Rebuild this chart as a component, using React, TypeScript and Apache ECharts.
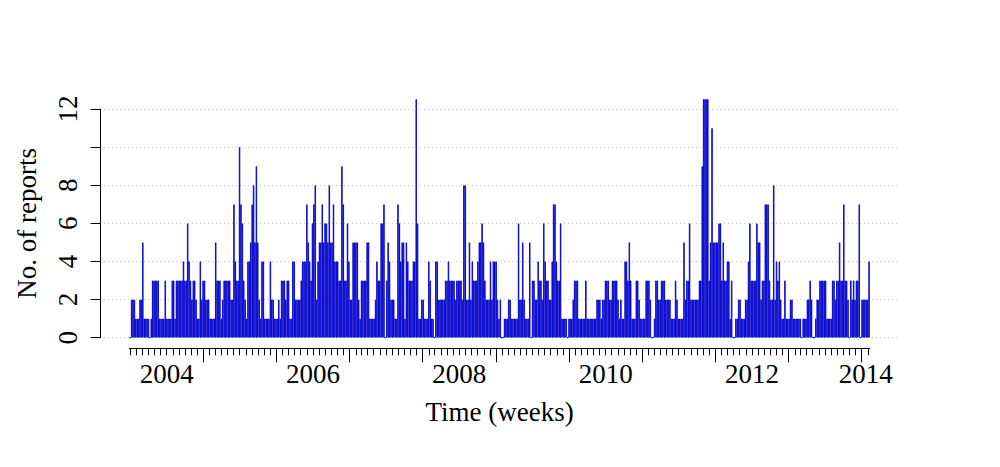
import React, { useEffect, useRef } from "react";
import * as echarts from "echarts";

// Weekly counts of reports (weeks start on Mondays, first week starts 2003-12-29)
const counts2004 = [0,2,2,2,1,1,1,2,2,5, 1,1,1,1,0,1,3,3,3,3, 3,1,1,1,1,3,1,1,1,1, 3,3,1,3,3,3,3,3,4,3, 3,6,4,3,2,3,3,2,1,1, 4,2,3];
const counts2005 = [3,2,2,2,1,1,1,1,5,3, 3,3,1,2,3,3,3,3,3,2, 2,7,4,3,3,10,7,6,3,2, 1,4,4,5,7,8,5,9,5,2, 1,4,4,1,1,1,1,4,2,2, 1,1];
const counts2006 = [1,2,1,3,3,3,2,3,3,1, 1,4,4,2,2,2,2,3,4,4, 4,7,5,4,3,6,7,8,2,4, 5,5,7,5,6,6,5,8,5,5, 7,4,4,4,3,3,9,7,3,3, 6,4];
const counts2007 = [2,2,5,5,5,5,2,1,3,3, 3,3,5,5,1,1,1,1,2,4, 3,3,6,6,7,0,3,5,4,2, 2,2,1,1,7,6,4,5,5,1, 5,4,3,3,3,4,4,13,6,1, 1,2];
const counts2008 = [2,1,1,1,4,3,1,1,0,4, 4,2,2,2,2,2,3,3,4,3, 3,3,3,2,3,3,3,3,2,8, 8,2,2,5,2,4,3,3,3,4, 5,5,6,5,3,2,2,2,4,2, 4,4];
const counts2009 = [4,2,1,2,0,0,1,1,1,2, 2,1,1,1,1,1,6,2,2,5, 2,1,1,1,5,0,3,3,2,2, 4,3,3,2,6,4,3,3,2,2, 4,7,7,4,3,3,6,1,1,1, 1,0,1];
const counts2010 = [1,1,2,3,3,3,1,1,1,1, 1,3,1,1,1,1,1,1,1,2, 2,2,1,2,2,3,3,3,2,2, 3,3,3,3,2,1,2,1,1,4, 4,3,5,3,1,1,1,3,3,2, 1,1];
const counts2011 = [1,1,3,3,3,2,0,0,1,3, 3,2,2,3,3,3,2,2,2,2, 1,1,1,3,2,1,1,1,1,5, 2,3,3,6,2,2,2,2,2,2, 3,3,9,13,13,13,13,3,5,11, 5,5];
const counts2012 = [5,5,6,6,3,5,3,3,4,4, 1,3,0,0,1,1,2,2,1,1, 1,2,2,4,6,3,3,3,3,6, 5,5,2,3,3,7,7,7,3,2, 2,8,2,4,3,4,2,1,1,3, 1,1];
const counts2013 = [1,2,2,1,1,1,1,1,1,0, 1,1,1,2,2,3,2,0,0,1, 2,2,3,3,3,3,3,1,1,1, 1,3,3,2,3,3,5,3,3,7, 3,3,2,0,3,2,3,2,3,3, 7,0];
const counts2014 = [2,2,2,2,2,4];

const yTickValues = [0, 2, 4, 6, 8, 10, 12];
const yHiddenLabels = [10];
const labelYears = [2004, 2006, 2008, 2010, 2012, 2014];

const DAY = 86400000;
const START_DAY = Date.UTC(2003, 11, 29) / DAY;

const weekly = [
  ...counts2004, ...counts2005, ...counts2006, ...counts2007, ...counts2008,
  ...counts2009, ...counts2010, ...counts2011, ...counts2012, ...counts2013, ...counts2014,
];
const END_DAY = START_DAY + weekly.length * 7;

const weekLabels = weekly.map((_, i) => new Date((START_DAY + 7 * i) * DAY).toISOString().slice(0, 10));

const monthTicks: number[] = [];
for (let y = 2003; y <= 2014; y++) {
  for (let m = 0; m < 12; m++) {
    const d = Date.UTC(y, m, 1) / DAY;
    if (d >= START_DAY && d <= END_DAY) monthTicks.push(d);
  }
}
const yearTicks: number[] = [];
for (let y = 2005; y <= 2014; y++) yearTicks.push(Date.UTC(y, 0, 1) / DAY);
const labelPositions = labelYears.map((y) => {
  const a = Math.max(Date.UTC(y, 0, 1) / DAY, START_DAY);
  const b = Math.min(Date.UTC(y + 1, 0, 1) / DAY, END_DAY);
  return (a + b) / 2;
});

const FONT = "'Liberation Serif', 'Times New Roman', serif";
const PX_PER_WEEK = 1.402;

export default function App() {
  const ref = useRef<HTMLDivElement>(null);
  useEffect(() => {
    document.body.style.margin = "0";
    const chart = echarts.init(ref.current!, null, { renderer: "svg" });
    const gridBWidth = weekly.length * PX_PER_WEEK;
    const option: any = {
      animation: false,
      backgroundColor: "#ffffff",
      grid: [
        { left: 100, top: 109, width: 800, height: 228.7 },
        { left: 129.5, top: 99.6, width: gridBWidth, height: 248.7 },
      ],
      xAxis: [
        { gridIndex: 0, type: "value", min: 0, max: 1, show: false },
        { gridIndex: 1, type: "category", data: weekLabels, show: false, boundaryGap: true },
        {
          gridIndex: 1,
          type: "value",
          min: START_DAY,
          max: END_DAY,
          position: "bottom",
          axisLine: { show: true, lineStyle: { color: "#000", width: 1 } },
          axisTick: { show: true, length: 7, customValues: monthTicks, lineStyle: { color: "#000", width: 1 } },
          axisLabel: {
            show: true,
            customValues: labelPositions,
            formatter: (v: number) => String(new Date(v * DAY).getUTCFullYear()),
            margin: 12,
            fontSize: 27,
            fontFamily: FONT,
            color: "#000",
          },
          splitLine: { show: false },
          name: "Time (weeks)",
          nameLocation: "middle",
          nameGap: 50,
          nameTextStyle: { fontSize: 27, fontFamily: FONT, color: "#000" },
        },
        {
          gridIndex: 1,
          type: "value",
          min: START_DAY,
          max: END_DAY,
          position: "bottom",
          axisLine: { show: false },
          axisTick: { show: true, length: 14, customValues: yearTicks, lineStyle: { color: "#000", width: 1 } },
          axisLabel: { show: false },
          splitLine: { show: false },
        },
      ],
      yAxis: [
        {
          gridIndex: 0,
          type: "value",
          min: yTickValues[0],
          max: yTickValues[yTickValues.length - 1],
          interval: 2,
          axisLine: { show: true, lineStyle: { color: "#000", width: 1 } },
          axisTick: { show: true, length: 9.5, lineStyle: { color: "#000", width: 1 } },
          axisLabel: {
            rotate: 90,
            margin: 19,
            formatter: (v: number) => (yHiddenLabels.includes(v) ? "" : String(v)),
            fontSize: 27,
            fontFamily: FONT,
            color: "#000",
          },
          splitLine: { show: true, lineStyle: { type: [1, 3], color: "#c8c8c8", width: 1 } },
          name: "No. of reports",
          nameLocation: "middle",
          nameRotate: 90,
          nameGap: 60,
          nameTextStyle: { fontSize: 27, fontFamily: FONT, color: "#000" },
        },
        { gridIndex: 1, type: "value", min: -0.56, max: 12.5, show: false },
      ],
      series: [
        {
          type: "bar",
          xAxisIndex: 1,
          yAxisIndex: 1,
          data: weekly,
          barWidth: "100%",
          barCategoryGap: "0%",
          clip: true,
          itemStyle: { color: "#0000CD", borderColor: "#0000CD", borderWidth: 0.8 },
        },
      ],
    };
    chart.setOption(option);
    return () => chart.dispose();
  }, []);
  return (
    <div
      ref={ref}
      style={{ position: "fixed", left: 0, top: 0, width: 1000, height: 467, background: "#fff" }}
    />
  );
}
